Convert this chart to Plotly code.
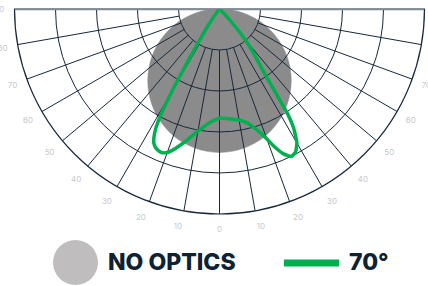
import plotly.graph_objects as go

# ---------------- data ----------------
# angles in degrees from nadir (negative = left side), intensity in % of the outer ring
theta_no_optics = [-90, -85, -80, -75, -70, -65, -60, -55, -50, -45, -40, -35, -30, -25, -20, -15, -10, -5,
                   0, 5, 10, 15, 20, 25, 30, 35, 40, 45, 50, 55, 60, 65, 70, 75, 80, 85, 90]
r_no_optics = [0, 6.1, 12.2, 18.1, 23.9, 29.6, 35.0, 40.2, 45.0, 49.5, 53.6, 57.3, 60.6, 63.4, 65.8, 67.6, 68.9, 69.7,
               70.0, 69.7, 68.9, 67.6, 65.8, 63.4, 60.6, 57.3, 53.6, 49.5, 45.0, 40.2, 35.0, 29.6, 23.9, 18.1, 12.2, 6.1, 0]

theta_70 = [-90, -46, -38, -36, -34, -33, -32, -31, -30, -29, -28, -27, -26, -24, -22, -20, -18, -16, -14, -12,
            -10, -8, -6, -4, -2, 0, 2, 4, 6, 8, 10, 12, 14, 16, 18, 20, 22, 24, 26, 28,
            30, 31, 32, 33, 34, 35, 36, 38, 40, 42, 44, 46, 90]
r_70 = [0, 0, 2, 6, 12, 16, 22, 32, 47, 59, 66.5, 70.5, 73, 75, 75.5, 74.5, 72, 69, 66, 63,
        60.5, 58.5, 56.5, 55, 54, 53.2, 53.3, 53.6, 54, 54.5, 55, 56, 57.5, 60, 63, 67.5, 73, 77.5, 80, 79,
        75.5, 72, 68, 61, 47, 38, 33, 26, 19, 11, 4, 0, 0]

angle_ticks = [-90, -80, -70, -60, -50, -40, -30, -20, -10, 0, 10, 20, 30, 40, 50, 60, 70, 80, 90]
angle_labels = [str(abs(a)) for a in angle_ticks]
ring_ticks = [20, 40, 60, 80]
r_max = 100

series_names = ["NO OPTICS", "70°"]

# ---------------- style ----------------
W, H = 428, 286
NAVY = "#17283a"
GREY_DISC = "#8b8b8b"
GREY_LEGEND = "#bfbdbd"
GREEN = "#00b050"
LABEL = "#c5c9ce"
TOPLINE = "#7f8a95"

def px(x):
    return x / W

def py(y):
    return 1 - y / H

domain = dict(x=[px(14.5), px(424.5)], y=[py(214), py(9)])
common = dict(domain=domain, sector=[180, 360])

fig = go.Figure()

# bottom subplot: the no-optics disc
fig.add_trace(go.Scatterpolar(
    r=r_no_optics, theta=theta_no_optics, mode="lines", fill="toself",
    fillcolor=GREY_DISC, line=dict(color=GREY_DISC, width=0.5, shape="spline"),
    name=series_names[0], showlegend=False, subplot="polar", hoverinfo="skip"))

# top subplot: spokes (start at the first ring), horizon line, 70° beam
spoke_r, spoke_t = [], []
for a in angle_ticks[1:-1]:
    spoke_r += [ring_ticks[0], r_max, None]
    spoke_t += [a, a, None]
fig.add_trace(go.Scatterpolar(
    r=spoke_r, theta=spoke_t, mode="lines", connectgaps=False,
    line=dict(color=NAVY, width=1), showlegend=False, subplot="polar2", hoverinfo="skip"))
fig.add_trace(go.Scatterpolar(
    r=[r_max, r_max], theta=[angle_ticks[0], angle_ticks[-1]], mode="lines",
    line=dict(color=TOPLINE, width=2.4), cliponaxis=False,
    showlegend=False, subplot="polar2", hoverinfo="skip"))
fig.add_trace(go.Scatterpolar(
    r=r_70, theta=theta_70, mode="lines",
    line=dict(color=GREEN, width=3.5, shape="spline", smoothing=0.5),
    name=series_names[1], showlegend=False, subplot="polar2", hoverinfo="skip"))

fig.update_layout(
    width=W, height=H,
    margin=dict(l=0, r=0, t=0, b=0),
    paper_bgcolor="white",
    polar=dict(**common, bgcolor="white",
               angularaxis=dict(visible=False, rotation=270, direction="counterclockwise"),
               radialaxis=dict(visible=False, range=[0, r_max])),
    polar2=dict(
        **common, bgcolor="rgba(0,0,0,0)",
        angularaxis=dict(
            rotation=270, direction="counterclockwise", layer="below traces",
            tickmode="array", tickvals=[a + 360 for a in angle_ticks], ticktext=angle_labels,
            showgrid=False,
            showline=True, linecolor=NAVY, linewidth=1.2,
            ticks="outside", ticklen=8, tickcolor="rgba(0,0,0,0)",
            tickfont=dict(size=8, color=LABEL, family="Inter"),
        ),
        radialaxis=dict(
            range=[0, r_max], tickmode="array", tickvals=ring_ticks,
            showgrid=True, gridcolor=NAVY, gridwidth=1,
            showline=False, showticklabels=False, ticks="",
        ),
    ),
    showlegend=False,
)

# legend drawn by hand
fig.add_shape(type="circle", xref="paper", yref="paper",
              x0=px(53), x1=px(98), y0=py(285), y1=py(240),
              fillcolor=GREY_LEGEND, line=dict(width=0))
fig.add_shape(type="line", xref="paper", yref="paper",
              x0=px(284), x1=px(339), y0=py(263), y1=py(263),
              line=dict(color=GREEN, width=7))
fig.add_annotation(text=series_names[0], xref="paper", yref="paper",
                   x=px(106), y=py(262), xanchor="left", yanchor="middle", showarrow=False,
                   font=dict(size=23, color="#0e2233", family="Inter", weight=800))
fig.add_annotation(text=series_names[1], xref="paper", yref="paper",
                   x=px(347), y=py(262), xanchor="left", yanchor="middle", showarrow=False,
                   font=dict(size=23, color="#0e2233", family="Inter", weight=800))

fig.write_html("out.html", config={"displayModeBar": False},
               post_script="document.body.style.margin='0';document.body.style.overflow='hidden';")
